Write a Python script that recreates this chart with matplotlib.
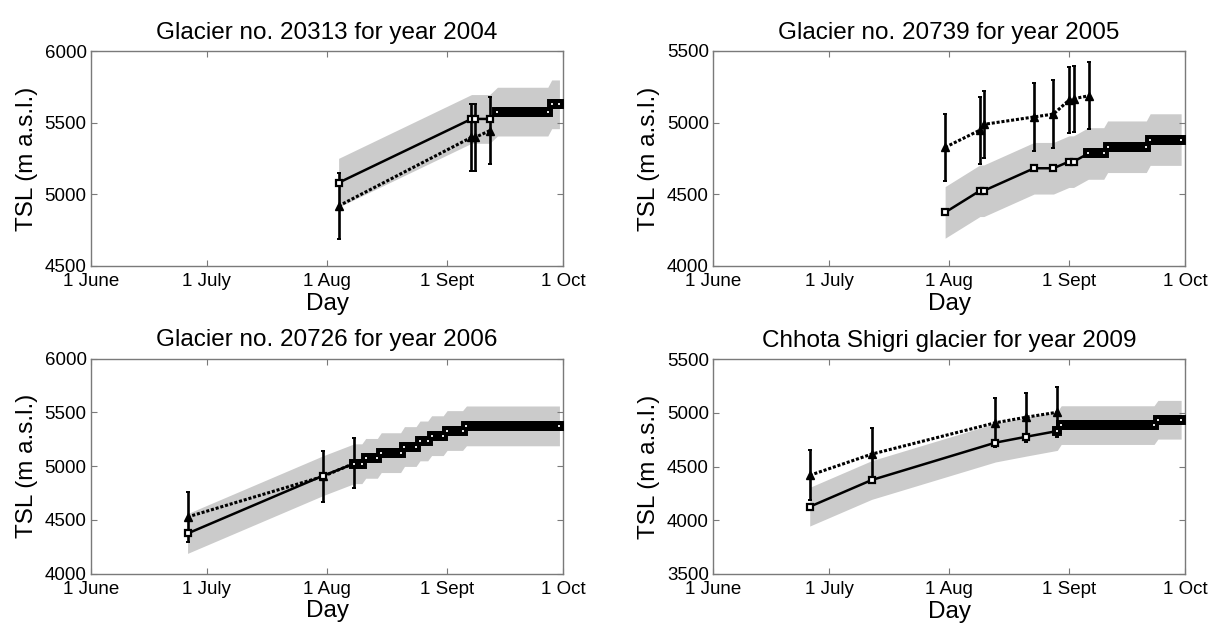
import matplotlib

matplotlib.use("Agg")

import matplotlib.pyplot as plt
import numpy as np

plt.rcParams["font.family"] = ["Liberation Sans", "DejaVu Sans"]

# x axis: days counted from 1 June
TICK_DAYS = [0, 30, 61, 92, 122]
TICK_LABELS = ["1 June", "1 July", "1 Aug", "1 Sept", "1 Oct"]

# --- Glacier 20313, 2004 ---
title_2004 = "Glacier no. 20313 for year 2004"
mod_days_2004 = [64, 98.3, 99.3, 103,
                 105, 106, 107, 108, 109, 110, 111, 112, 113, 114, 115, 116, 117, 118,
                 119, 120, 121]
mod_tsl_2004 = [5081, 5526, 5526, 5526,
                5577, 5577, 5577, 5577, 5577, 5577, 5577, 5577, 5577, 5577, 5577, 5577, 5577, 5577,
                5628, 5628, 5628]
obs_days_2004 = [64, 98.3, 99.3, 103]
obs_tsl_2004 = [4919, 5398, 5398, 5444]
obs_err_2004 = [230, 235, 235, 235]
unc_2004 = 170
yticks_2004 = [4500, 5000, 5500, 6000]

# --- Glacier 20739, 2005 ---
title_2005 = "Glacier no. 20739 for year 2005"
mod_days_2005 = [60, 69, 70, 83, 88, 92, 93.2,
                 97, 98, 99, 100, 101,
                 102, 103, 104, 105, 106, 107, 108, 109, 110, 111, 112,
                 113, 114, 115, 116, 117, 118, 119, 120, 121]
mod_tsl_2005 = [4374, 4525, 4525, 4682, 4682, 4728, 4728,
                4785, 4785, 4785, 4785, 4785,
                4832, 4832, 4832, 4832, 4832, 4832, 4832, 4832, 4832, 4832, 4832,
                4882, 4882, 4882, 4882, 4882, 4882, 4882, 4882, 4882]
obs_days_2005 = [60, 69, 70, 83, 88, 92, 93.2, 97.2]
obs_tsl_2005 = [4828, 4948, 4988, 5040, 5060, 5157, 5167, 5188]
obs_err_2005 = [235, 233, 236, 235, 236, 230, 230, 233]
unc_2005 = 180
yticks_2005 = [4000, 4500, 5000, 5500]

# --- Glacier 20726, 2006 ---
title_2006 = "Glacier no. 20726 for year 2006"
mod_days_2006 = [25, 60, 68, 69, 70,
                 71, 72, 73, 74,
                 75, 76, 77, 78, 79, 80,
                 81, 82, 83, 84,
                 85, 86, 87,
                 88, 89, 90, 91,
                 92, 93, 94, 95, 96,
                 97, 98, 99, 100, 101, 102, 103, 104, 105, 106, 107, 108, 109,
                 110, 111, 112, 113, 114, 115, 116, 117, 118, 119, 120, 121]
mod_tsl_2006 = [4374, 4912, 5023, 5023, 5023,
                5073, 5073, 5073, 5073,
                5126, 5126, 5126, 5126, 5126, 5126,
                5183, 5183, 5183, 5183,
                5235, 5235, 5235,
                5284, 5284, 5284, 5284,
                5332, 5332, 5332, 5332, 5332,
                5375, 5375, 5375, 5375, 5375, 5375, 5375, 5375, 5375, 5375, 5375, 5375, 5375,
                5375, 5375, 5375, 5375, 5375, 5375, 5375, 5375, 5375, 5375, 5375, 5375]
obs_days_2006 = [25, 60, 68]
obs_tsl_2006 = [4528, 4905, 5027]
obs_err_2006 = [232, 235, 233]
unc_2006 = 185
yticks_2006 = [4000, 4500, 5000, 5500, 6000]

# --- Chhota Shigri, 2009 ---
title_2009 = "Chhota Shigri glacier for year 2009"
mod_days_2009 = [25, 41, 73, 81, 89,
                 90, 91, 92, 93, 94, 95, 96, 97, 98, 99, 100, 101, 102,
                 103, 104, 105, 106, 107, 108, 109, 110, 111, 112, 113, 114,
                 115, 116, 117, 118, 119, 120, 121]
mod_tsl_2009 = [4126, 4374, 4722, 4777, 4830,
                4885, 4885, 4885, 4885, 4885, 4885, 4885, 4885, 4885, 4885, 4885, 4885, 4885,
                4885, 4885, 4885, 4885, 4885, 4885, 4885, 4885, 4885, 4885, 4885, 4885,
                4935, 4935, 4935, 4935, 4935, 4935, 4935]
obs_days_2009 = [25, 41, 73, 81, 89]
obs_tsl_2009 = [4418, 4615, 4907, 4959, 5005]
obs_err_2009 = [233, 240, 228, 228, 232]
unc_2009 = 180
yticks_2009 = [3500, 4000, 4500, 5000, 5500]

BAND = "#cbcbcb"
AXC = "#7a7a7a"

# axes rectangles in figure fractions (measured off the 1211x624 reference)
RECTS = [
    (90.7 / 1211, 358 / 624, 472.6 / 1211, 215 / 624),
    (713.0 / 1211, 358 / 624, 472.0 / 1211, 215 / 624),
    (90.7 / 1211, 50.3 / 624, 472.6 / 1211, 215 / 624),
    (713.0 / 1211, 50 / 624, 472.0 / 1211, 215 / 624),
]


def daily_mask(days):
    """True for points that belong to a run of >=3 daily model values."""
    d = np.asarray(days, float)
    mask = np.zeros(len(d), bool)
    i = 0
    while i < len(d):
        j = i
        while j + 1 < len(d) and d[j + 1] - d[j] <= 1.01:
            j += 1
        if j - i + 1 >= 3:
            mask[i:j + 1] = True
        i = j + 1
    return mask


def panel(ax, title, md, mt, od, ot, oe, unc, yticks):
    md = np.asarray(md, float)
    mt = np.asarray(mt, float)
    ax.fill_between(md, mt - unc, mt + unc, color=BAND, lw=0, zorder=1)

    ax.plot(od, ot, color="k", ls=(0, (1, 0.6)), lw=2.2, zorder=3)
    ax.errorbar(od, ot, yerr=oe, fmt="none", ecolor="k", elinewidth=1.9,
                capsize=1.6, capthick=1.4, zorder=4)
    ax.plot(od, ot, ls="none", marker="^", ms=5.5, mfc="k", mec="k", zorder=5)

    ax.plot(md, mt, color="k", lw=1.8, zorder=6)
    dense = daily_mask(md)
    ax.plot(md[~dense], mt[~dense], ls="none", marker="s", ms=5, mfc="white",
            mec="k", mew=1.6, zorder=7)
    ax.plot(md[dense], mt[dense], ls="none", marker="s", ms=5.3, mfc="k",
            mec="k", mew=1.4, zorder=7)
    # small light specks at both ends of every flat step of the daily series
    dd, dt = md[dense], mt[dense]
    if len(dd):
        ends = np.zeros(len(dd), bool)
        ends[0] = ends[-1] = True
        ends[1:] |= dt[1:] != dt[:-1]
        ends[:-1] |= dt[1:] != dt[:-1]
        ax.plot(dd[ends], dt[ends], ls="none", marker="s", ms=1.6, mfc="#e0e0e0",
                mew=0, zorder=8)

    ax.set_xlim(TICK_DAYS[0], TICK_DAYS[-1])
    ax.set_ylim(yticks[0], yticks[-1])
    ax.set_xticks(TICK_DAYS)
    ax.set_xticklabels(TICK_LABELS)
    ax.set_yticks(yticks)
    ax.tick_params(direction="in", top=True, right=True, length=4, width=0.8,
                   color=AXC, labelsize=13.5, pad=3)
    ax.tick_params(axis="x", pad=5)
    for s in ax.spines.values():
        s.set_color(AXC)
        s.set_linewidth(1.0)
    ax.set_title(title, fontsize=17.5, pad=9)
    ax.set_xlabel("Day", fontsize=17.5, labelpad=2)
    ax.set_ylabel("TSL (m a.s.l.)", fontsize=17.5, labelpad=5)


fig = plt.figure(figsize=(12.11, 6.24), dpi=100)
panels = [
    (title_2004, mod_days_2004, mod_tsl_2004, obs_days_2004, obs_tsl_2004, obs_err_2004, unc_2004, yticks_2004),
    (title_2005, mod_days_2005, mod_tsl_2005, obs_days_2005, obs_tsl_2005, obs_err_2005, unc_2005, yticks_2005),
    (title_2006, mod_days_2006, mod_tsl_2006, obs_days_2006, obs_tsl_2006, obs_err_2006, unc_2006, yticks_2006),
    (title_2009, mod_days_2009, mod_tsl_2009, obs_days_2009, obs_tsl_2009, obs_err_2009, unc_2009, yticks_2009),
]
for rect, args in zip(RECTS, panels):
    ax = fig.add_axes(rect)
    panel(ax, *args)

fig.savefig("out.png", dpi=100, facecolor="white")
